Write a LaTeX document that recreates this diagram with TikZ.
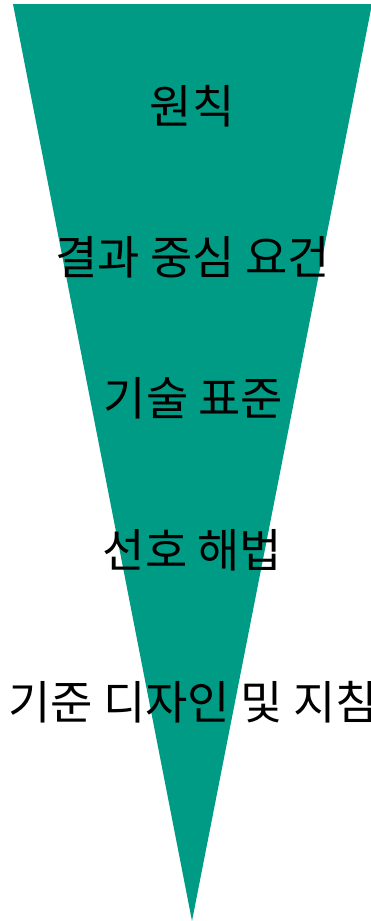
\documentclass[tikz,border=0pt]{standalone}
\usepackage{fontspec}
\newfontfamily\kr{Noto Sans CJK KR}
\definecolor{teal1}{RGB}{0,155,133}
\begin{document}
\begin{tikzpicture}[x=1pt,y=-1pt,
  lbl/.style={font=\kr\fontsize{46}{55}\selectfont, text=black, inner sep=0pt, anchor=center}]
\useasboundingbox (0,0) rectangle (371,921);
\clip (0,0) rectangle (371,921);
\fill[teal1] (13,4) coordinate (tl) -- (372,4) coordinate (tr) -- (192,921) coordinate (ap) -- cycle;
\node[lbl] (t1) at (192,106) {원칙};
\node[lbl] (t2) at (192.5,257) {결과 중심 요건};
\node[lbl] (t3) at (193.5,398) {기술 표준};
\node[lbl] (t4) at (192.5,550) {선호 해법};
\node[lbl] (t5) at (193,702) {기준 디자인 및 지침};
\end{tikzpicture}
\end{document}
